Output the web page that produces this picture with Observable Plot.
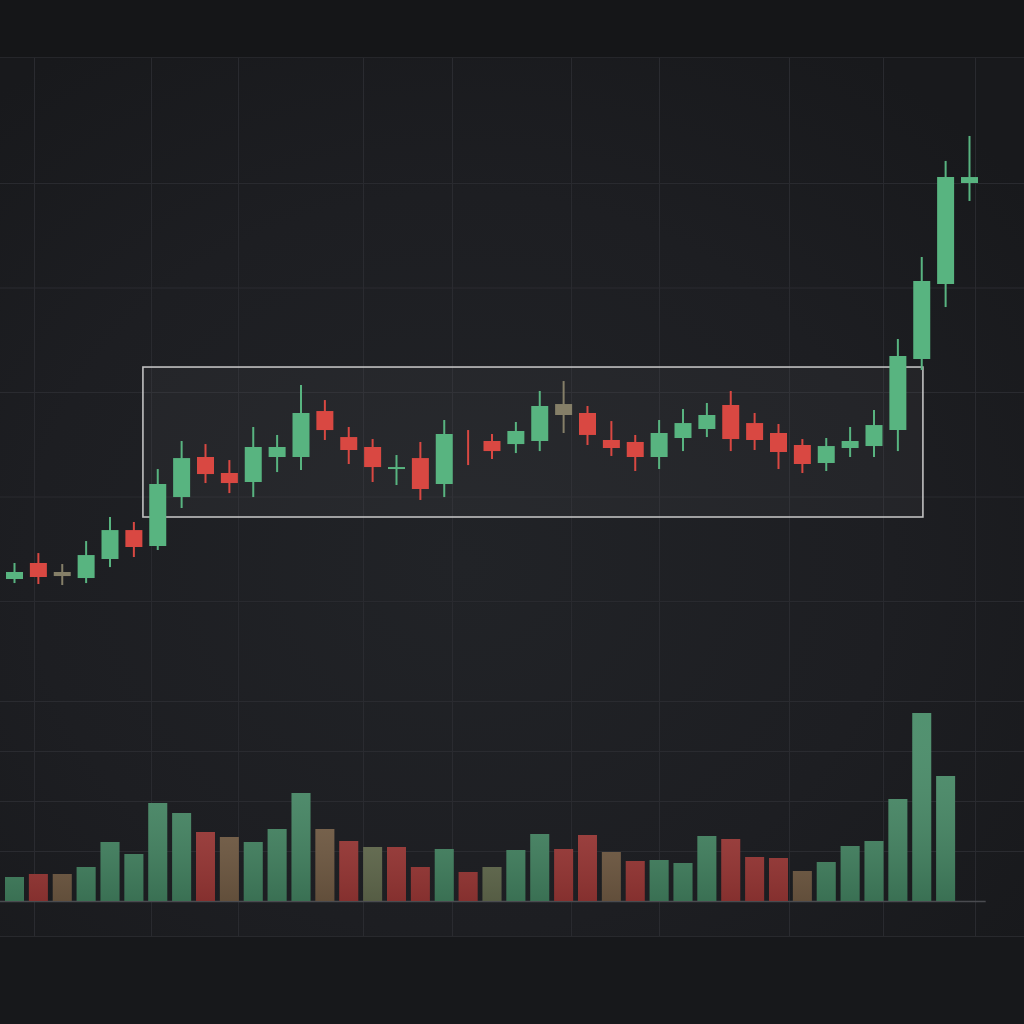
<!DOCTYPE html>
<html><head><meta charset="utf-8">
<script src="https://cdn.jsdelivr.net/npm/d3@7"></script>
<script src="https://cdn.jsdelivr.net/npm/@observablehq/plot@0.6"></script>
<style>
html,body{margin:0;padding:0;background:#1b1c20;}
#wrap{width:1024px;height:1024px;position:relative;overflow:hidden;
  background:radial-gradient(ellipse 70% 60% at 45% 55%, #212327 0%, #1d1e22 60%, #18191c 100%);}
#top{height:57px;border-bottom:1px solid #25262a;background:#151618;}
#bottom{height:87px;border-top:1px solid #28292d;background:#17181b;}
svg{display:block;}
</style></head><body>
<div id="wrap"><div id="top"></div><div id="price"></div><div id="vol"></div><div id="bottom"></div></div>
<script>
// ---- data ----
const opens  = [102.11,103.64,102.78,102.20,104.02,106.79,105.26,109.95,113.78,112.25,111.39,113.78,113.78,118.18,115.69,114.74,112.63,113.68,111.20,114.70,115.31,115.02,115.31,117.80,117.99,115.41,115.22,113.78,115.60,116.46,118.76,117.03,116.08,114.93,113.21,114.64,114.83,116.36,123.16,130.34,140.00];
const closes = [102.78,102.30,102.39,104.40,106.79,105.17,111.20,113.68,112.15,111.29,114.74,114.74,117.99,116.36,114.45,112.82,112.82,110.72,115.98,114.70,114.35,116.27,118.66,118.85,115.89,114.64,113.78,116.08,117.03,117.80,115.50,115.41,114.26,113.11,114.83,115.31,116.84,123.44,130.62,140.57,140.57];
const highs  = [103.64,104.59,103.54,105.74,108.04,107.56,112.63,115.31,115.02,113.49,116.65,115.89,120.67,119.23,116.65,115.50,113.97,115.22,117.32,116.36,115.98,117.13,120.10,121.05,118.66,117.22,115.89,117.32,118.37,118.95,120.10,117.99,116.94,115.50,115.60,116.65,118.28,125.07,132.92,142.11,144.50];
const lows   = [101.72,101.63,101.53,101.72,103.25,104.21,104.88,108.90,111.29,110.33,109.95,112.34,112.54,115.41,113.11,111.39,111.10,109.67,109.95,113.01,113.59,114.16,114.35,116.08,114.93,113.88,112.44,112.63,114.35,115.69,114.35,114.45,112.63,112.25,112.44,113.78,113.78,114.35,122.11,128.13,138.28];
const directions = ["up","down","flat","up","up","down","up","up","down","down","up","up","up","down","down","down","up","down","up","down","down","up","up","flat","down","down","down","up","up","up","down","down","down","down","up","up","up","up","up","up","up"];
const volumes = [480,540,540,680,1180,940,1960,1760,1380,1280,1180,1440,2160,1440,1200,1080,1080,680,1040,580,680,1020,1340,1040,1320,980,800,820,760,1300,1240,880,860,600,780,1100,1200,2040,3760,2500];
const volumeTones = ["g","r","b","g","g","g","g","g","r","b","g","g","g","b","r","o","r","r","g","r","o","g","g","r","r","b","r","g","g","g","r","r","r","b","g","g","g","g","g","g"];
const xGrid = [0.838,5.738,9.382,14.618,18.346,23.330,27.016,32.461,36.398,40.251];
const priceTicks = [100,110,120,130,140];
const volumeTicks = [1000,2000,3000,4000];
const zone = [{start:5.40, end:38.07, low:108.04, high:122.39}];

// ---- tables ----
const candles = opens.map((o,i)=>({i, open:o, close:closes[i], high:highs[i], low:lows[i], dir:directions[i]}));
const vols = volumes.map((v,i)=>({i, volume:v, tone:volumeTones[i]}));

const xDomain = [-0.5864, 42.304];
const gridColor = "#2a2b30";

const price = Plot.plot({
  width:1024, height:642, margin:0,
  style:{background:"transparent"},
  x:{domain:xDomain, axis:null},
  y:{domain:[90.53,151.96], axis:null},
  color:{domain:["up","down","flat"], range:["#58b480","#d94842","#857f68"]},
  marks:[
    Plot.ruleX(xGrid,{stroke:gridColor, strokeWidth:1}),
    Plot.ruleY(priceTicks,{stroke:gridColor, strokeWidth:1}),
    Plot.rect(zone,{x1:"start",x2:"end",y1:"low",y2:"high",fill:"#ffffff",fillOpacity:0.035,stroke:"#d2d2d2",strokeOpacity:0.9,strokeWidth:1.6}),
    Plot.ruleX(candles,{x:"i",y1:"low",y2:"high",stroke:"dir",strokeWidth:2}),
    Plot.ruleX(candles.filter(d=>d.open!==d.close),{x:"i",y1:"open",y2:"close",stroke:"dir",strokeWidth:17})
  ]
});
document.getElementById("price").appendChild(price);

const volume = Plot.plot({
  width:1024, height:236, margin:0,
  style:{background:"transparent"},
  x:{domain:xDomain, axis:null},
  y:{domain:[-700,4020], axis:null},
  color:{domain:["g","r","b","o"], range:["#488c68","#a63c3a","#7a6249","#6b7455"]},
  marks:[
    Plot.ruleX(xGrid,{stroke:gridColor, strokeWidth:1}),
    Plot.ruleY(volumeTicks,{stroke:gridColor, strokeWidth:1}),
    Plot.ruleY([0],{x1:xDomain[0], x2:candles.length - 0.3, stroke:"#4a4b50", strokeWidth:1.5}),
    Plot.ruleX(vols,{x:"i",y1:0,y2:"volume",stroke:"tone",strokeWidth:19}),
    Plot.ruleX(vols,{x:"i",y1:0,y2:"volume",stroke:"url(#volshade)",strokeWidth:19})
  ]
});
const defs = d3.select(volume).insert("defs",":first-child");
const lg = defs.append("linearGradient").attr("id","volshade").attr("gradientUnits","userSpaceOnUse")
  .attr("x1",0).attr("y1",0).attr("x2",0).attr("y2",201);
lg.append("stop").attr("offset","0").attr("stop-color","#ffffff").attr("stop-opacity",0.05);
lg.append("stop").attr("offset","1").attr("stop-color","#000000").attr("stop-opacity",0.2);
document.getElementById("vol").appendChild(volume);
</script>
</body></html>
